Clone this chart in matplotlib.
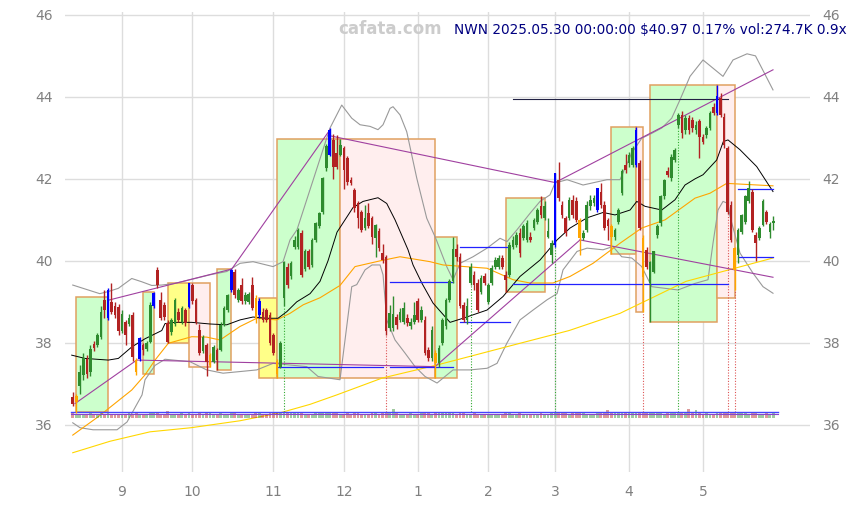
import matplotlib
matplotlib.use("Agg")
import matplotlib.pyplot as plt
from matplotlib.patches import Rectangle

# daily candles, 2024-08-13 .. 2025-05-30 (trading-day index 0..199)
opens = [36.69, 36.55, 36.95, 37.22, 37.60, 37.30, 37.98, 37.95, 38.15, 39.05,
         38.60, 39.00, 38.90, 38.88, 38.30, 38.50, 38.45, 38.68, 37.58, 37.60,
         37.95, 37.85, 38.03, 38.90, 39.78, 39.04, 38.92, 38.48, 38.27, 38.45,
         38.75, 38.50, 38.80, 38.88, 39.40, 39.05, 38.32, 37.79, 37.95, 37.45,
         37.54, 37.83, 37.83, 38.44, 38.80, 39.29, 39.74, 39.05, 39.41, 39.01,
         39.00, 39.41, 39.10, 38.68, 38.76, 38.80, 38.68, 38.20, 37.55, 37.42,
         39.09, 39.86, 39.62, 40.35, 40.35, 40.67, 39.80, 40.23, 39.90, 40.51,
         40.84, 41.20, 42.26, 42.59, 42.95, 42.63, 42.59, 42.75, 42.50, 41.98,
         41.73, 41.41, 41.20, 40.80, 41.16, 41.04, 40.55, 40.72, 40.19, 40.10,
         38.36, 38.36, 38.64, 38.56, 38.52, 38.60, 38.40, 38.52, 39.01, 38.56,
         38.56, 37.83, 37.63, 37.75, 37.50, 37.99, 38.40, 39.05, 39.50, 40.30,
         40.10, 38.93, 38.56, 39.45, 39.66, 39.45, 39.25, 39.62, 39.00, 39.45,
         39.86, 39.86, 40.06, 39.66, 39.66, 40.35, 40.39, 40.67, 40.55, 40.51,
         40.59, 40.80, 40.96, 41.33, 41.04, 40.59, 40.15, 40.39, 41.98, 41.37,
         41.04, 41.04, 41.49, 41.45, 41.00, 40.55, 40.76, 41.33, 41.41, 41.24,
         41.69, 41.37, 41.00, 40.84, 40.59, 40.96, 41.65, 42.34, 42.38, 42.34,
         42.34, 42.38, 40.55, 40.27, 39.45, 39.74, 40.63, 40.92, 41.57, 42.18,
         42.02, 42.46, 43.32, 43.56, 43.20, 43.48, 43.44, 43.20, 43.40, 43.03,
         43.07, 43.24, 43.76, 43.60, 43.97, 43.52, 42.75, 41.37, 40.31, 40.15,
         40.71, 40.96, 41.45, 41.69, 40.63, 40.55, 40.88, 41.20, 40.71, 40.92]
highs = [36.80, 36.75, 37.45, 37.75, 37.70, 37.95, 38.05, 38.25, 38.90, 39.30,
         39.35, 39.45, 39.00, 38.95, 38.80, 38.55, 38.70, 38.75, 37.62, 38.15,
         38.00, 38.05, 39.00, 39.25, 39.85, 39.25, 39.00, 38.55, 38.60, 39.10,
         38.85, 38.90, 38.85, 39.47, 39.45, 39.10, 38.45, 38.20, 38.00, 37.75,
         37.95, 37.88, 38.50, 38.90, 39.20, 39.79, 39.80, 39.35, 39.58, 39.25,
         39.25, 39.60, 39.17, 39.09, 38.85, 38.85, 38.75, 38.25, 37.60, 38.05,
         40.00, 39.95, 40.00, 40.60, 40.80, 40.75, 40.30, 40.30, 40.55, 40.95,
         41.20, 42.05, 42.85, 43.24, 43.10, 43.08, 42.98, 42.80, 42.55, 42.05,
         41.78, 41.45, 41.25, 41.36, 41.40, 41.10, 40.90, 40.80, 40.40, 40.15,
         38.93, 39.15, 38.70, 38.85, 39.00, 38.70, 38.60, 39.00, 39.10, 38.90,
         38.65, 37.90, 38.40, 37.83, 37.95, 38.60, 39.10, 39.55, 40.57, 40.40,
         40.20, 39.00, 39.10, 39.95, 39.75, 39.55, 39.65, 39.70, 39.45, 39.90,
         40.10, 40.15, 40.15, 39.75, 40.45, 40.60, 40.70, 40.80, 40.90, 41.00,
         40.70, 41.05, 41.30, 41.57, 41.45, 41.05, 40.50, 42.14, 42.42, 41.45,
         41.10, 41.55, 41.60, 41.55, 41.05, 40.75, 41.45, 41.60, 41.60, 41.77,
         41.90, 41.45, 41.05, 40.90, 40.80, 41.30, 42.25, 42.60, 42.65, 42.80,
         43.26, 42.45, 40.63, 40.35, 40.00, 40.25, 40.90, 41.60, 42.00, 42.30,
         42.60, 42.75, 43.60, 43.65, 43.55, 43.55, 43.50, 43.40, 43.45, 43.10,
         43.30, 43.65, 43.85, 44.29, 44.10, 43.60, 42.80, 41.45, 40.35, 40.80,
         41.15, 41.60, 41.95, 41.75, 40.70, 40.85, 41.50, 41.25, 40.95, 41.10]
lows = [36.45, 36.30, 36.75, 37.10, 37.15, 37.20, 37.80, 37.90, 38.10, 38.60,
        38.55, 38.70, 38.60, 38.20, 38.25, 37.95, 38.40, 37.55, 37.21, 37.55,
        37.70, 37.80, 38.00, 38.85, 39.35, 38.55, 38.55, 38.00, 38.20, 38.40,
        38.50, 38.45, 38.40, 38.85, 38.95, 38.45, 37.70, 37.75, 37.18, 37.42,
        37.50, 37.35, 37.80, 38.40, 38.75, 39.25, 39.10, 39.00, 38.95, 38.95,
        38.95, 38.80, 38.48, 38.60, 38.50, 38.50, 37.95, 37.70, 37.14, 37.38,
        38.90, 39.35, 39.55, 40.30, 40.30, 39.60, 39.75, 39.80, 39.85, 40.45,
        40.80, 41.15, 42.20, 42.55, 42.00, 42.25, 42.55, 41.75, 41.85, 41.85,
        41.20, 40.80, 40.70, 40.75, 40.80, 40.40, 40.10, 40.25, 39.95, 38.20,
        38.30, 38.30, 38.35, 38.50, 38.45, 38.40, 38.35, 38.45, 38.50, 38.50,
        37.70, 37.55, 37.55, 37.14, 37.40, 37.95, 38.35, 39.00, 39.45, 40.00,
        38.85, 38.50, 38.45, 39.40, 39.30, 38.75, 39.20, 39.40, 38.95, 39.40,
        39.80, 39.80, 39.80, 39.24, 39.60, 40.30, 40.35, 40.10, 40.50, 40.45,
        40.45, 40.75, 40.90, 41.05, 41.00, 40.55, 39.94, 40.35, 41.45, 41.05,
        40.60, 41.00, 41.05, 40.95, 40.15, 40.50, 40.70, 41.25, 41.35, 41.20,
        41.30, 40.75, 40.50, 40.17, 40.50, 40.90, 41.60, 42.15, 42.30, 42.30,
        42.30, 40.75, 38.76, 39.80, 38.51, 39.70, 40.55, 40.85, 41.50, 42.05,
        41.95, 42.40, 43.25, 43.00, 43.10, 43.10, 43.15, 43.10, 42.50, 42.85,
        43.00, 43.20, 43.55, 43.55, 43.50, 42.75, 41.15, 40.45, 39.30, 39.95,
        40.65, 40.90, 41.40, 40.70, 40.00, 40.50, 40.85, 40.90, 40.55, 40.75]
closes = [36.52, 36.70, 37.30, 37.62, 37.25, 37.85, 37.88, 38.20, 38.75, 38.80,
          39.30, 38.75, 38.68, 38.30, 38.70, 38.20, 38.60, 37.66, 37.30, 38.12,
          37.83, 38.00, 38.92, 39.22, 39.41, 38.60, 38.62, 38.03, 38.56, 39.05,
          38.55, 38.85, 38.48, 39.45, 39.02, 38.50, 37.75, 38.15, 37.54, 37.70,
          37.91, 37.58, 38.44, 38.85, 39.17, 39.78, 39.17, 39.29, 39.01, 39.17,
          39.20, 38.85, 38.60, 39.01, 38.56, 38.56, 37.99, 37.75, 37.25, 37.99,
          39.98, 39.41, 39.94, 40.51, 40.76, 39.66, 40.25, 39.86, 40.50, 40.92,
          41.16, 42.02, 42.79, 43.20, 42.30, 42.30, 42.83, 42.22, 41.93, 41.90,
          41.28, 41.04, 40.76, 41.04, 40.84, 40.59, 40.88, 40.31, 40.02, 38.28,
          38.72, 38.70, 38.44, 38.76, 38.85, 38.48, 38.52, 38.68, 38.56, 38.80,
          37.75, 37.63, 38.32, 37.50, 37.87, 38.56, 39.05, 39.50, 40.30, 40.10,
          38.89, 38.56, 38.90, 39.86, 39.41, 38.80, 39.58, 39.45, 39.41, 39.82,
          40.02, 40.06, 39.86, 39.54, 40.39, 40.51, 40.63, 40.19, 40.84, 40.92,
          40.51, 41.00, 41.24, 41.12, 41.33, 40.72, 40.43, 42.14, 41.53, 41.12,
          40.67, 41.49, 41.12, 41.00, 40.55, 40.67, 41.37, 41.49, 41.53, 41.77,
          41.37, 40.80, 40.84, 40.59, 40.76, 41.24, 42.18, 42.22, 42.58, 42.75,
          43.20, 40.80, 39.60, 39.86, 39.98, 40.23, 40.84, 41.57, 41.98, 42.10,
          42.54, 42.71, 43.56, 43.11, 43.48, 43.20, 43.24, 43.32, 43.03, 42.91,
          43.24, 43.60, 43.60, 44.01, 43.56, 42.83, 41.20, 40.51, 39.78, 40.76,
          41.12, 41.57, 41.77, 40.76, 40.43, 40.80, 41.45, 40.96, 40.90, 40.97]
volumes = [260, 240, 230, 250, 220, 270, 230, 240, 260, 250, 280, 240, 230, 220, 250, 240, 260, 230, 270, 250,
           240, 230, 260, 300, 280, 250, 240, 420, 250, 240, 230, 260, 240, 280, 250, 240, 260, 250, 270, 260,
           240, 250, 260, 230, 250, 280, 260, 240, 250, 230, 240, 250, 260, 270, 240, 250, 260, 270, 290, 300,
           320, 280, 260, 270, 260, 280, 250, 240, 250, 260, 270, 280, 300, 290, 280, 260, 250, 240, 260, 250,
           270, 260, 250, 240, 250, 260, 270, 250, 260, 330, 300, 520, 260, 250, 240, 250, 260, 240, 250, 260,
           280, 260, 250, 270, 260, 280, 270, 260, 290, 250, 300, 260, 250, 240, 260, 250, 240, 230, 250, 240,
           250, 240, 230, 260, 270, 250, 240, 260, 250, 240, 230, 250, 240, 260, 250, 240, 260, 320, 300, 270,
           260, 250, 270, 260, 290, 260, 250, 240, 250, 270, 260, 280, 440, 300, 270, 260, 280, 290, 270, 260,
           290, 320, 330, 300, 290, 280, 270, 260, 250, 260, 270, 260, 280, 270, 260, 500, 270, 440, 260, 250,
           260, 250, 240, 300, 280, 290, 320, 300, 300, 280, 270, 260, 250, 270, 260, 250, 240, 260, 250, 275]
blue_days = [10, 19, 23, 33, 45, 53, 73, 137, 149, 160, 183]
orange_days = [1, 18, 39, 52, 58, 103, 144, 153, 162, 188]

month_days = [14, 34, 57, 77, 98, 118, 137, 158, 179]
month_labels = ["9", "10", "11", "12", "1", "2", "3", "4", "5"]

# moving averages / bands (day index, price)
ma20_days = [-0.3, 3.5, 10.1, 12.95, 16.76, 20.53, 25.28, 26.21, 29.05, 33.8, 39.0, 43.74, 47.52, 51.21,
             55.1, 58.31, 60.78, 63.62, 67.4, 70.23, 72.5, 75.06, 77.33, 79.6, 82.45, 86.7, 89.18, 91.54,
             92.96, 95.23, 96.65, 99.2, 102.33, 107.16, 110.85, 117.67, 122.21, 127.04, 132.72, 137.55,
             141.24, 146.07, 150.62, 154.02, 158.3, 160.2, 162.55, 167.29, 171.06, 173.9, 176.74, 179.01,
             182.9, 184.78, 186.11, 189.52, 194.26, 198.89]
ma20_vals = [37.70, 37.62, 37.58, 37.62, 37.90, 38.10, 38.30, 38.47, 38.50, 38.50, 38.46, 38.44, 38.56, 38.63,
             38.60, 38.60, 38.76, 39.00, 39.20, 39.50, 40.00, 40.70, 41.00, 41.30, 41.45, 41.54, 41.40, 41.00,
             40.72, 40.27, 39.90, 39.45, 38.97, 38.50, 38.60, 38.80, 39.13, 39.62, 40.02, 40.51,
             40.80, 41.05, 41.18, 41.12, 41.24, 41.45, 41.33, 41.24, 41.49, 41.85, 42.00, 42.10,
             42.46, 42.91, 42.95, 42.71, 42.30, 41.69]
ma50_days = [0, 7.27, 16.76, 20.53, 23.37, 27.15, 33.8, 38.06, 41.84, 47.52, 52.26, 57.94, 61.71, 65.49,
             70.23, 75.91, 80.17, 87.28, 92.96, 101.48, 105.17, 117.67, 125.06, 129.88, 136.41, 141.24,
             147.78, 155.44, 161.6, 168.23, 176.74, 181.0, 185.74, 198.89]
ma50_vals = [35.75, 36.20, 36.85, 37.22, 37.58, 37.99, 38.15, 38.14, 38.07, 38.40, 38.60, 38.56, 38.72, 38.93,
             39.10, 39.40, 39.86, 40.00, 40.10, 39.98, 39.90, 39.82, 39.54, 39.46, 39.46, 39.62,
             39.94, 40.43, 40.80, 41.00, 41.53, 41.65, 41.89, 41.83]
ma100_days = [0, 10.6, 21.95, 33.6, 47.52, 59.16, 67.4, 74.98, 87.84, 103.47, 127.04, 140.96, 155.44,
              174.18, 198.89]
ma100_vals = [35.32, 35.60, 35.83, 35.93, 36.10, 36.30, 36.50, 36.73, 37.14, 37.46, 37.99, 38.30, 38.72,
              39.50, 40.07]
upper_days = [0, 7.67, 10.03, 12.95, 16.76, 19.6, 22.44, 25.28, 29.05, 33.8, 39.0, 43.74, 47.52, 51.21,
              56.89, 59.73, 61.71, 63.7, 73.07, 76.4, 79.24, 81.6, 84.44, 86.7, 88.13, 90.12, 90.97, 92.96,
              94.86, 97.7, 100.54, 103.1, 106.22, 108.01, 110.0, 113.69, 117.67, 121.36, 123.35, 126.19,
              129.88, 132.72, 135.56, 136.98, 140.39, 144.94, 151.75, 155.44, 158.76, 161.6, 164.45, 167.29,
              170.12, 172.48, 175.32, 179.01, 184.69, 187.53, 191.51, 193.92, 198.89]
upper_vals = [39.41, 39.20, 39.25, 39.33, 39.57, 39.49, 39.40, 39.41, 39.45, 39.55, 39.66, 39.74, 39.94, 39.98,
              39.86, 39.98, 40.51, 40.76, 43.24, 43.80, 43.48, 43.32, 43.28, 43.20, 43.32, 43.72, 43.76, 43.56,
              43.15, 42.02, 41.04, 40.55, 39.86, 39.54, 39.94, 40.10, 40.31, 40.55, 40.47, 40.76,
              41.16, 41.45, 41.61, 41.90, 41.98, 41.85, 41.98, 41.98, 42.63, 42.99, 43.11, 43.24,
              43.48, 43.93, 44.50, 44.90, 44.50, 44.90, 45.05, 45.00, 44.17]
lower_days = [0, 2.07, 5.77, 12.58, 15.42, 19.68, 20.53, 23.37, 26.21, 33.31, 38.06, 42.69, 47.52, 52.26,
              56.89, 61.71, 66.46, 69.67, 75.91, 79.24, 80.66, 83.02, 85.0, 87.28, 88.13, 89.18, 91.54, 94.38,
              97.22, 100.06, 103.47, 108.01, 112.84, 117.67, 120.51, 123.35, 127.04, 130.74, 134.71, 137.55,
              139.25, 143.23, 146.07, 150.62, 153.45, 155.92, 158.76, 161.6, 164.45, 168.23, 171.91, 176.74,
              180.43, 181.85, 183.27, 184.69, 186.11, 186.68, 189.52, 193.21, 196.05, 198.89]
lower_vals = [36.05, 35.93, 35.88, 35.88, 36.07, 36.73, 37.10, 37.45, 37.60, 37.54, 37.34, 37.26, 37.30, 37.34,
              37.50, 37.46, 37.42, 37.18, 37.10, 39.37, 39.42, 39.78, 39.90, 39.90, 39.66, 38.56, 38.07, 37.75,
              37.42, 37.18, 37.02, 37.34, 37.34, 37.38, 37.50, 38.00, 38.56, 38.80, 39.05, 39.20,
              39.78, 40.23, 40.31, 40.27, 40.35, 40.10, 40.07, 39.86, 39.37, 39.33, 39.29, 39.45,
              39.54, 40.43, 41.24, 41.45, 41.40, 41.08, 40.19, 39.70, 39.37, 39.21]

# swing boxes: kind, first day, last day, low, high
boxes = [("g", 1, 10, 36.32, 39.11), ("g", 20, 23, 37.23, 39.25), ("y", 27, 33, 38.00, 39.47),
         ("p", 33, 39, 37.42, 39.47), ("g", 41, 45, 37.35, 39.79), ("y", 53, 58, 37.14, 39.09),
         ("g", 58, 76, 37.14, 42.98), ("p", 76, 103, 37.14, 42.98), ("g", 103, 109, 37.14, 40.57),
         ("g", 123, 134, 39.24, 41.53), ("g", 153, 160, 40.17, 43.26), ("p", 160, 162, 38.76, 43.26),
         ("g", 164, 183, 38.51, 44.29), ("p", 183, 188, 39.09, 44.29)]
# trend lines: day0, price0, day1, price1
trends = [(0.65, 36.52, 18.18, 37.58), (18.18, 37.58, 102.9, 37.42), (102.9, 37.42, 144.08, 40.51),
          (144.08, 40.51, 198.89, 39.60), (10.1, 39.04, 45.16, 39.80), (45.16, 39.80, 73.07, 43.20),
          (73.07, 43.05, 136.98, 41.91), (136.98, 41.91, 198.89, 44.66)]
# support / resistance levels: price, day0, day1
levels = [(37.42, 57.94, 88.13), (37.42, 90.12, 108.01), (39.48, 90.12, 108.01), (40.35, 110.0, 124.2),
          (38.50, 110.0, 124.2), (39.43, 125.06, 186.11), (41.75, 188.96, 198.89), (40.10, 188.96, 198.89)]
top_level = (43.94, 125.06, 186.11)
signal_days = [60, 89, 113, 137, 162, 172, 186, 188]
signal_kinds = ["g", "r", "g", "g", "r", "g", "r", "r"]

GREEN = "#2e8b2e"
RED = "#b22222"

fig = plt.figure(figsize=(8.61, 5.08), dpi=100)
ax = fig.add_axes([65 / 861, 36 / 508, 745 / 861, 460 / 508])

box_fill = {"g": "#ccffcc", "p": "#ffeeee", "y": "#ffff88"}
for kind, d0, d1, lo, hi in boxes:
    ax.add_patch(Rectangle((d0, lo), d1 - d0, hi - lo, facecolor=box_fill[kind],
                           edgecolor="#e0a060", lw=1.1, zorder=1))

ax.plot(upper_days, upper_vals, color="#999999", lw=0.8, zorder=2)
ax.plot(lower_days, lower_vals, color="#999999", lw=0.8, zorder=2)
ax.plot(ma100_days, ma100_vals, color="#ffd700", lw=0.8, zorder=2)
ax.plot(ma50_days, ma50_vals, color="#ffa500", lw=0.8, zorder=2)
ax.plot(ma20_days, ma20_vals, color="black", lw=0.7, zorder=2)

n = len(closes)
days = list(range(n))
cols = []
for i in days:
    if i in blue_days:
        cols.append("#0000ff")
    elif i in orange_days:
        cols.append("#ffa500")
    elif closes[i] >= opens[i]:
        cols.append(GREEN)
    else:
        cols.append(RED)

# signal verticals
for d, k in zip(signal_days, signal_kinds):
    ax.vlines(d, 36.31, lows[d], colors="#33aa33" if k == "g" else "#dd5555",
              linestyles=(0, (1, 1.5)), lw=0.8, zorder=2)

# volume strip
vcols = [GREEN if c >= o else RED for o, c in zip(opens, closes)]
ax.bar(days, [v * 0.00042 for v in volumes], bottom=36.17, width=0.8, color=vcols, alpha=0.45, zorder=2)
ax.plot([-0.5, 200.3], [36.31, 36.31], color="#4444ff", lw=1.0, zorder=3)
ax.plot([-0.5, 200.3], [36.27, 36.27], color="#8844cc", lw=0.8, zorder=3)

for d0, p0, d1, p1 in trends:
    ax.plot([d0, d1], [p0, p1], color="#a040a0", lw=0.8, zorder=3)
for p, d0, d1 in levels:
    ax.plot([d0, d1], [p, p], color="#2222ff", lw=0.9, zorder=3)
ax.plot([top_level[1], top_level[2]], [top_level[0]] * 2, color="#222244", lw=0.8, zorder=3)

ax.vlines(days, lows, highs, colors=cols, lw=1.0, zorder=4)
bodies = [max(abs(c - o), 0.02) for o, c in zip(opens, closes)]
ax.bar(days, bodies, bottom=[min(o, c) for o, c in zip(opens, closes)], width=0.75,
       color=cols, zorder=5)

ax.set_xlim(-2.2, 209.4)
ax.set_ylim(34.85, 46.07)
ax.set_xticks(month_days)
ax.set_xticklabels(month_labels)
ax.set_yticks([36, 38, 40, 42, 44, 46])
ax.grid(color="#dddddd", lw=1.0, zorder=0)
ax.set_axisbelow(True)
for s in ax.spines.values():
    s.set_visible(False)
ax.tick_params(axis="both", length=0, labelcolor="#808080", labelsize=10)
ax.tick_params(axis="y", labelright=True, pad=9)
ax.tick_params(axis="x", pad=9)

fig.text(338 / 861, 1 - 29 / 508, "cafata.com", color="#cccccc", fontsize=12,
         fontweight="bold", va="center", ha="left")
fig.text(454 / 861, 1 - 29.5 / 508, "NWN 2025.05.30 00:00:00 $40.97 0.17% vol:274.7K 0.9x",
         color="#000080", fontsize=9.8, va="center", ha="left")

fig.savefig("out.png", dpi=100)
